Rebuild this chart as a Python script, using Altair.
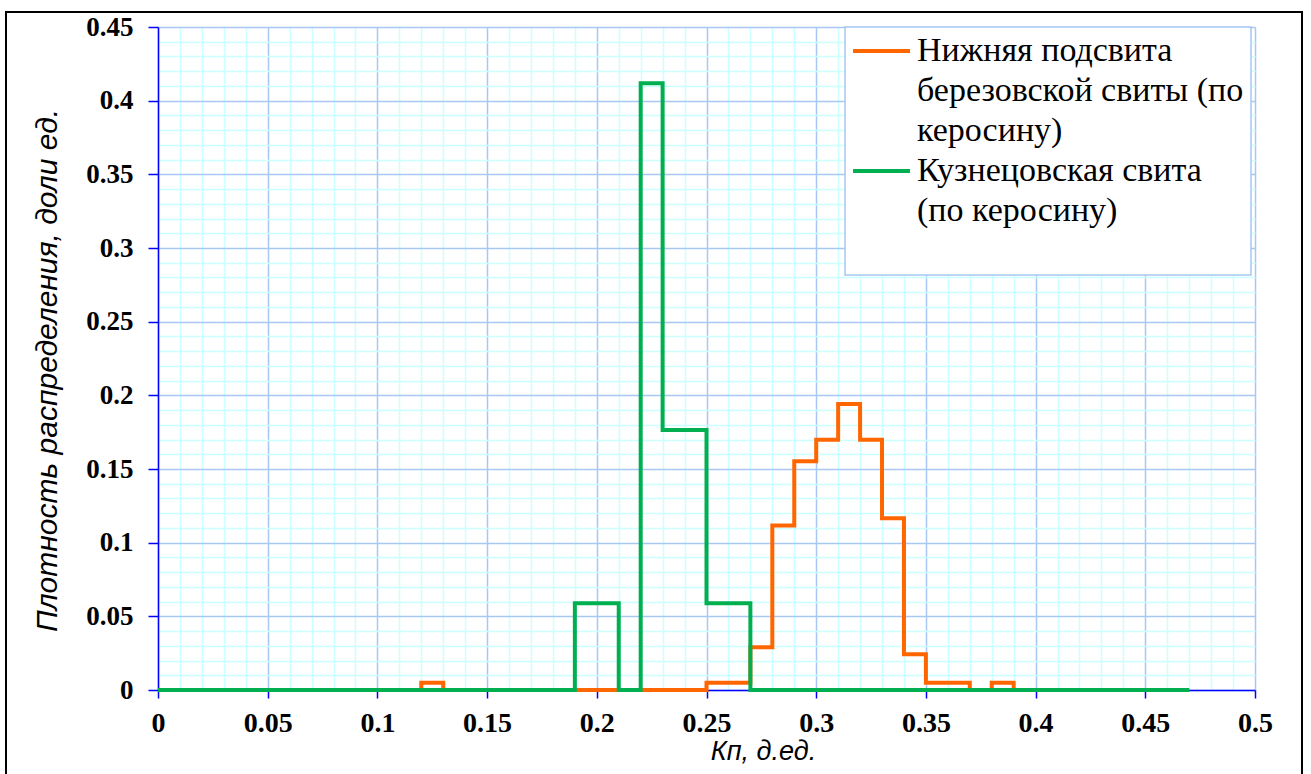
import altair as alt
import pandas as pd

# Bin left edges (д.ед.), last value closes the step line
kp = [0.00, 0.01, 0.02, 0.03, 0.04, 0.05, 0.06, 0.07, 0.08, 0.09,
      0.10, 0.11, 0.12, 0.13, 0.14, 0.15, 0.16, 0.17, 0.18, 0.19,
      0.20, 0.21, 0.22, 0.23, 0.24, 0.25, 0.26, 0.27, 0.28, 0.29,
      0.30, 0.31, 0.32, 0.33, 0.34, 0.35, 0.36, 0.37, 0.38, 0.39,
      0.40, 0.41, 0.42, 0.43, 0.44, 0.45, 0.46, 0.47]

# Нижняя подсвита березовской свиты (по керосину)
nizh = [0, 0, 0, 0, 0, 0, 0, 0, 0, 0,
        0, 0, 0.0049, 0, 0, 0, 0, 0, 0, 0,
        0, 0, 0, 0, 0, 0.0049, 0.0049, 0.0291, 0.1117, 0.1553,
        0.1699, 0.1942, 0.1699, 0.1165, 0.0243, 0.0049, 0.0049, 0, 0.0049, 0,
        0, 0, 0, 0, 0, 0, 0, 0]

# Кузнецовская свита (по керосину)
kuzn = [0, 0, 0, 0, 0, 0, 0, 0, 0, 0,
        0, 0, 0, 0, 0, 0, 0, 0, 0, 0.0588,
        0.0588, 0, 0.4118, 0.1765, 0.1765, 0.0588, 0.0588, 0, 0, 0,
        0, 0, 0, 0, 0, 0, 0, 0, 0, 0,
        0, 0, 0, 0, 0, 0, 0, 0]

series_names = ["Нижняя подсвита|березовской свиты (по|керосину)",
                "Кузнецовская свита|(по керосину)|"]
series_colors = ["#FF6600", "#00B050"]

x_grid = [round(i * 0.01, 2) for i in range(51)]
y_grid = [round(i * 0.01, 2) for i in range(46)]

df1 = pd.DataFrame({"kp": kp, "val": nizh, "series": series_names[0]})
df2 = pd.DataFrame({"kp": kp, "val": kuzn, "series": series_names[1]})

MAJOR = "abs(datum.value*20 - round(datum.value*20)) < 0.001"
grid_color = {"condition": {"test": MAJOR, "value": "#A6C8F2"}, "value": "#CCFFFF"}
tick_op = {"condition": {"test": MAJOR, "value": 1}, "value": 0}
label_expr = f"({MAJOR}) ? toString(round(datum.value*100)/100) : ''"

x_axis = alt.Axis(values=x_grid, grid=True, gridColor=grid_color, gridWidth=1.5,
                  domainColor="#0000FF", domainWidth=1.5,
                  tickColor="#0000FF", tickWidth=1.5, tickSize=8, tickOpacity=tick_op,
                  labelExpr=label_expr, labelFont="Liberation Serif", labelFontWeight="bold",
                  labelFontSize=28, labelColor="black", labelPadding=11, labelFlush=False,
                  labelOverlap=False, labelBound=False,
                  title="Кп, д.ед.", titleFont="Liberation Sans", titleFontStyle="italic",
                  titleFontWeight="normal", titleFontSize=27, titleColor="black",
                  titleX=605, titleY=69, titleAlign="center", titleBaseline="alphabetic")

y_axis = alt.Axis(values=y_grid, grid=True, gridColor=grid_color, gridWidth=1.5,
                  domainColor="#0000FF", domainWidth=1.5,
                  tickColor="#0000FF", tickWidth=1.5, tickSize=10, tickOpacity=tick_op,
                  labelExpr=label_expr, labelFont="Liberation Serif", labelFontWeight="bold",
                  labelFontSize=27, labelColor="black", labelPadding=15,
                  labelOverlap=False, labelBound=False, labelFlush=False,
                  title="Плотность распределения, доли ед.", titleFont="Liberation Sans",
                  titleFontStyle="italic", titleFontWeight="normal", titleFontSize=30,
                  titleColor="black", titleAngle=270, titleX=-102, titleY=343,
                  titleAlign="center", titleBaseline="alphabetic")

legend = alt.Legend(title=None, orient="none", legendX=687, legendY=0,
                    fillColor="white",
                    labelFont="Liberation Serif", labelFontSize=34, labelColor="black",
                    labelLimit=600, labelOffset=31, labelExpr="split(datum.label, '|')",
                    symbolType="M-1.12,0L2.88,0", symbolSize=812, symbolStrokeWidth=4)

color = alt.Color("series:N", scale=alt.Scale(domain=series_names, range=series_colors),
                  legend=legend)
x_enc = alt.X("kp:Q", scale=alt.Scale(domain=[0, 0.5], nice=False, zero=True), axis=x_axis)
y_enc = alt.Y("val:Q", scale=alt.Scale(domain=[0, 0.45], nice=False, zero=True), axis=y_axis)

line_style = dict(interpolate="step-after", strokeWidth=4, strokeJoin="miter", strokeCap="butt")

l1 = alt.Chart(df1).mark_line(**line_style).encode(x=x_enc, y=y_enc, color=color)
l2 = alt.Chart(df2).mark_line(**line_style).encode(x=x_enc, y=y_enc, color=color)

border = alt.Chart(alt.Data(values=[{"a": 1}])).mark_rect(
    fill="transparent", stroke="black", strokeWidth=2
).encode(x=alt.value(-152), x2=alt.value(1144), y=alt.value(-15), y2=alt.value(760))

chart = alt.layer(border, l1, l2).properties(
    width=1097, height=663,
    autosize=alt.AutoSizeParams(type="none"),
    padding={"left": 158, "top": 27, "right": 56, "bottom": 84},
    background="white",
).configure(
    style={"guide-label": {"lineHeight": 40}}
).configure_view(stroke=None).configure_legend(
    padding=7, rowPadding=6, strokeColor="#A6C8F2", strokeWidth=1.5
)

chart.save("out.html", embed_options={"renderer": "svg", "actions": False})
